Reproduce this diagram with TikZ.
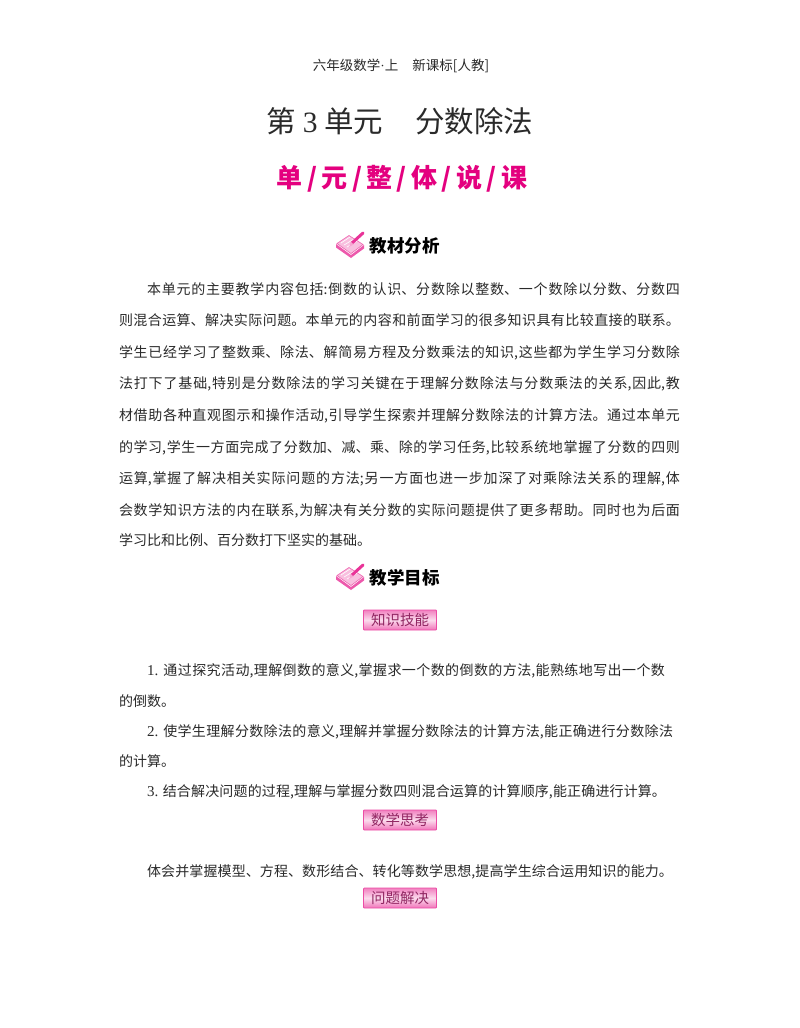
\documentclass[tikz,border=0pt]{standalone}
\usepackage{fontspec}
\setmainfont{Liberation Serif}
\newfontfamily\cjk{Noto Sans CJK SC}
\XeTeXlinebreaklocale "zh"
\XeTeXlinebreakskip=0pt plus 2pt minus 1pt
\definecolor{rosered}{HTML}{E4007F}
\definecolor{txt}{HTML}{2A2A2A}
\tikzset{
  x=1pt,y=-1pt,
  bodyline/.style={anchor=base west,inner sep=0pt,outer sep=0pt,font=\cjk\fontsize{14}{14}\selectfont,text=txt},
  sechead/.style={anchor=center,inner sep=0pt,font=\cjk\bfseries\fontsize{17.5}{18}\selectfont,text=black},
  badge/.style={draw=rosered!70,line width=.8pt,minimum width=73pt,minimum height=20pt,inner sep=0pt,rounded corners=.8pt,
     top color=rosered!50,bottom color=rosered!55,middle color=rosered!14,
     font=\cjk\fontsize{14.5}{15}\selectfont,text=rosered!55!black!85},
}
\newcommand{\jline}[2]{\parbox[b]{#1pt}{\parfillskip=0pt\parindent=0pt\lineskiplimit=0pt #2}}
\newcommand{\bookicon}[2]{%
  \begin{scope}[shift={(#1,#2)}]
    \fill[rosered!65] (0,13) -- (15,24) -- (28,14) -- (28,17.5) -- (15,27) -- (0,16.5) -- cycle;
    \fill[rosered!25,draw=rosered!60,line width=.6pt] (1,12.5) -- (13,4.5) -- (27,13.5) -- (15,22.5) -- cycle;
    \draw[white,line width=.6pt] (5,12) -- (14,6) (8,14) -- (18,8) (11,16) -- (21,10);
    \draw[rosered!80,line width=3pt,line cap=round] (16,12) -- (27,2);
    \fill[rosered!35!white] (13,16) -- (15,11) -- (17.5,13.5) -- cycle;
  \end{scope}}
\begin{document}
\begin{tikzpicture}
\useasboundingbox[fill=white] (0,0) rectangle (800,1028);

\node[inner sep=0pt,font=\cjk\fontsize{13.5}{14}\selectfont,text=txt] (top) at (401,66) {六年级数学{\rmfamily ·}上\hspace{14pt}新课标[人教]};
\node[inner sep=0pt,font=\cjk\fontsize{29.5}{30}\selectfont,text=txt] (title) at (400,121) {第 {\rmfamily 3} 单元\hspace{32pt}分数除法};
\node[inner sep=0pt,font=\cjk\bfseries\fontsize{26}{27}\selectfont,text=rosered] (sub) at (402,179) {单\hspace{4.4pt}/\hspace{4.4pt}元\hspace{4.4pt}/\hspace{4.4pt}整\hspace{4.4pt}/\hspace{4.4pt}体\hspace{4.4pt}/\hspace{4.4pt}说\hspace{4.4pt}/\hspace{4.4pt}课};

\bookicon{336}{231}
\node[sechead] (h1) at (404.5,246) {教材分析};

\node[bodyline] (p1) at (147,294) {\jline{533}{本单元的主要教学内容包括:倒数的认识、分数除以整数、一个数除以分数、分数四}};
\node[bodyline] (p2) at (119,325.5) {\jline{561}{则混合运算、解决实际问题。本单元的内容和前面学习的很多知识具有比较直接的联系。}};
\node[bodyline] (p3) at (119,357) {\jline{561}{学生已经学习了整数乘、除法、解简易方程及分数乘法的知识,这些都为学生学习分数除}};
\node[bodyline] (p4) at (119,388.5) {\jline{561}{法打下了基础,特别是分数除法的学习关键在于理解分数除法与分数乘法的关系,因此,教}};
\node[bodyline] (p5) at (119,420) {\jline{561}{材借助各种直观图示和操作活动,引导学生探索并理解分数除法的计算方法。通过本单元}};
\node[bodyline] (p6) at (119,452) {\jline{561}{的学习,学生一方面完成了分数加、减、乘、除的学习任务,比较系统地掌握了分数的四则}};
\node[bodyline] (p7) at (119,483) {\jline{561}{运算,掌握了解决相关实际问题的方法;另一方面也进一步加深了对乘除法关系的理解,体}};
\node[bodyline] (p8) at (119,515) {\jline{561}{会数学知识方法的内在联系,为解决有关分数的实际问题提供了更多帮助。同时也为后面}};
\node[bodyline] (p9) at (119,545.5) {学习比和比例、百分数打下坚实的基础。};

\bookicon{336}{563}
\node[sechead] (h2) at (404.5,578) {教学目标};
\node[badge] (b1) at (400,620) {知识技能};

\node[bodyline] (l1) at (147,675.5) {\jline{518}{{\rmfamily\fontsize{15}{15}\selectfont 1.} 通过探究活动,理解倒数的意义,掌握求一个数的倒数的方法,能熟练地写出一个数}};
\node[bodyline] (l1b) at (119,706) {的倒数。};
\node[bodyline] (l2) at (147,736) {\jline{526}{{\rmfamily\fontsize{15}{15}\selectfont 2.} 使学生理解分数除法的意义,理解并掌握分数除法的计算方法,能正确进行分数除法}};
\node[bodyline] (l2b) at (119,766) {的计算。};
\node[bodyline] (l3) at (147,796) {\jline{519}{{\rmfamily\fontsize{15}{15}\selectfont 3.} 结合解决问题的过程,理解与掌握分数四则混合运算的计算顺序,能正确进行计算。}};
\node[badge] (b2) at (400,820) {数学思考};
\node[bodyline] (l4) at (147,876) {\jline{526}{体会并掌握模型、方程、数形结合、转化等数学思想,提高学生综合运用知识的能力。}};
\node[badge] (b3) at (400,898) {问题解决};
\end{tikzpicture}
\end{document}
